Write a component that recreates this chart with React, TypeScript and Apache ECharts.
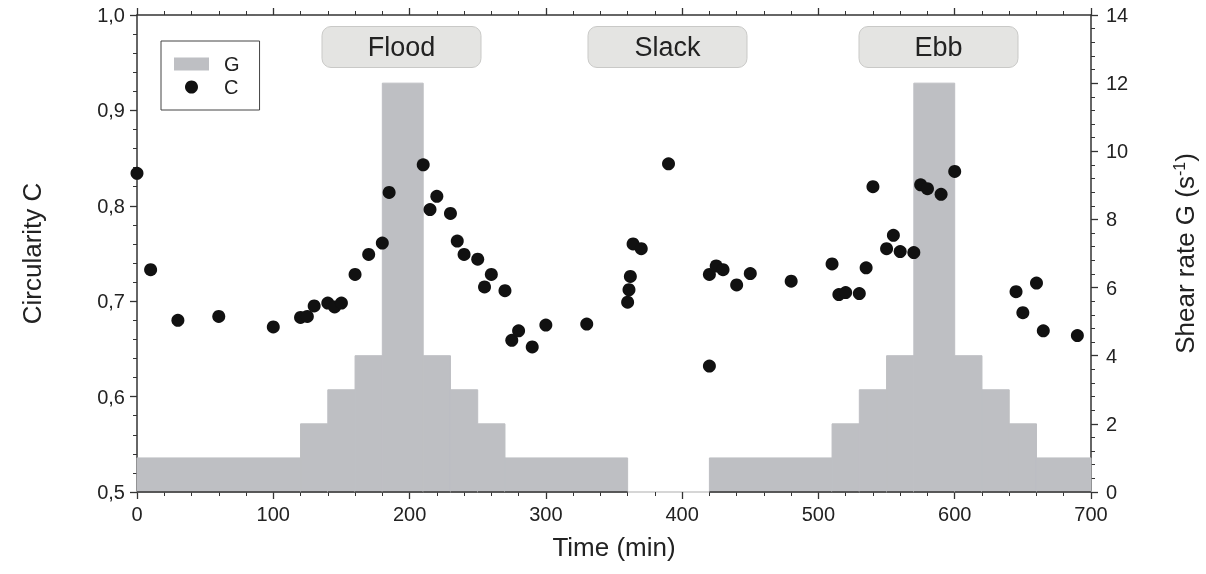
import React, { useEffect, useRef } from "react";
import * as echarts from "echarts";

// Shear rate G steps (time start, time end in min, value in s^-1)
const gStart = [0, 120, 140, 160, 180, 210, 230, 250, 270, 420, 510, 530, 550, 570, 600, 620, 640, 660];
const gEnd = [120, 140, 160, 180, 210, 230, 250, 270, 360, 510, 530, 550, 570, 600, 620, 640, 660, 700];
const gValue = [1, 2, 3, 4, 12, 4, 3, 2, 1, 1, 2, 3, 4, 12, 4, 3, 2, 1];

// Circularity C points
const cTime = [0, 10, 30, 60, 100, 120, 125, 130, 140, 145, 150, 160, 170, 180, 185, 210, 215, 220, 230, 235, 240, 250, 255, 260, 270, 275, 280, 290, 300, 330, 360, 361, 362, 364, 370, 390, 420, 420, 425, 430, 440, 450, 480, 510, 515, 520, 530, 535, 540, 550, 555, 560, 570, 575, 580, 590, 600, 645, 650, 660, 665, 690];
const cValue = [0.834, 0.733, 0.680, 0.684, 0.673, 0.683, 0.684, 0.695, 0.698, 0.694, 0.698, 0.728, 0.749, 0.761, 0.814, 0.843, 0.796, 0.810, 0.792, 0.763, 0.749, 0.744, 0.715, 0.728, 0.711, 0.659, 0.669, 0.652, 0.675, 0.676, 0.699, 0.712, 0.726, 0.760, 0.755, 0.844, 0.632, 0.728, 0.737, 0.733, 0.717, 0.729, 0.721, 0.739, 0.707, 0.709, 0.708, 0.735, 0.820, 0.755, 0.769, 0.752, 0.751, 0.822, 0.818, 0.812, 0.836, 0.710, 0.688, 0.719, 0.669, 0.664];

const phaseLabels = ["Flood", "Slack", "Ebb"];
const phaseBoxLeft = [322, 588, 859];

const FONT = "Liberation Sans, Arial, Helvetica, sans-serif";
const AXIS = "#333";
const TXT = "#222";
const BAR = "#bebfc3";

export default function App() {
  const ref = useRef<HTMLDivElement>(null);
  useEffect(() => {
    document.body.style.margin = "0";
    const chart = echarts.init(ref.current!, undefined, { renderer: "svg" });
    const gData = gStart.map((s, i) => [s, gEnd[i], gValue[i]]);
    const cData = cTime.map((t, i) => [t, cValue[i]]);

    const boxes: any[] = [];
    phaseLabels.forEach((lab, i) => {
      boxes.push({
        type: "rect",
        shape: { x: phaseBoxLeft[i], y: 26.5, width: 159, height: 41, r: 9 },
        style: { fill: "#e4e4e2", stroke: "#c9c9c7", lineWidth: 1 },
        z: 10,
      });
      boxes.push({
        type: "text",
        x: phaseBoxLeft[i] + 79.5,
        y: 47,
        style: {
          text: lab,
          fill: TXT,
          font: `27px ${FONT}`,
          align: "center",
          verticalAlign: "middle",
        },
        z: 11,
      });
    });

    const commonTick = { show: true, length: 7, lineStyle: { color: AXIS, width: 1.3 } };
    const commonMinor = { show: true, splitNumber: 5, length: 4, lineStyle: { color: AXIS, width: 1 } };

    chart.setOption({
      animation: false,
      textStyle: { fontFamily: FONT },
      grid: { left: 137, right: 115, top: 15, bottom: 82 },
      legend: {
        orient: "vertical",
        left: 161,
        top: 41,
        width: 99,
        borderColor: "#444",
        borderWidth: 1,
        padding: [13, 20, 13, 13],
        itemWidth: 35,
        itemHeight: 13,
        itemGap: 3,
        textStyle: { fontSize: 20, color: TXT, fontFamily: FONT, lineHeight: 20, padding: [0, 0, 0, 10] },
        data: [
          { name: "G", icon: "rect" },
          { name: "C", icon: "circle" },
        ],
      },
      xAxis: [
        {
          type: "value",
          min: 0,
          max: 700,
          interval: 100,
          name: "Time (min)",
          nameLocation: "middle",
          nameGap: 42,
          nameTextStyle: { fontSize: 26, color: TXT, fontFamily: FONT },
          axisLine: { show: true, onZero: false, lineStyle: { color: "#c8c8c8", width: 1.5 } },
          axisTick: commonTick,
          minorTick: commonMinor,
          axisLabel: { fontSize: 20, color: TXT, margin: 12, fontFamily: FONT },
          splitLine: { show: false },
        },
        {
          type: "value",
          position: "top",
          min: 0,
          max: 700,
          interval: 100,
          axisLine: { show: true, onZero: false, lineStyle: { color: AXIS, width: 1.5 } },
          axisTick: commonTick,
          minorTick: commonMinor,
          axisLabel: { show: false },
          splitLine: { show: false },
        },
      ],
      yAxis: [
        {
          type: "value",
          min: 0.5,
          max: 1.0,
          interval: 0.1,
          name: "Circularity C",
          nameLocation: "middle",
          nameGap: 92,
          nameRotate: 90,
          nameTextStyle: { fontSize: 26, color: TXT, fontFamily: FONT },
          axisLine: { show: true, onZero: false, lineStyle: { color: AXIS, width: 1.5 } },
          axisTick: commonTick,
          minorTick: commonMinor,
          axisLabel: {
            fontSize: 20,
            color: TXT,
            margin: 12,
            fontFamily: FONT,
            formatter: (v: number) => v.toFixed(1).replace(".", ","),
          },
          splitLine: { show: false },
        },
        {
          type: "value",
          position: "right",
          min: 0,
          max: 14,
          interval: 2,
          name: "{a|Shear rate G (s}{sup|-1}{a|)}",
          nameLocation: "middle",
          nameGap: 80,
          nameRotate: 90,
          nameTextStyle: {
            color: TXT,
            fontFamily: FONT,
            rich: {
              a: { fontSize: 26, color: TXT, fontFamily: FONT },
              sup: { fontSize: 16, color: TXT, fontFamily: FONT, padding: [0, 0, 12, 0] },
            },
          },
          axisLine: { show: true, onZero: false, lineStyle: { color: AXIS, width: 1.5 } },
          axisTick: commonTick,
          minorTick: commonMinor,
          axisLabel: { fontSize: 20, color: TXT, margin: 15, fontFamily: FONT },
          splitLine: { show: false },
        },
      ],
      series: [
        {
          name: "G",
          type: "custom",
          xAxisIndex: 0,
          yAxisIndex: 1,
          itemStyle: { color: BAR },
          encode: { x: [0, 1], y: 2 },
          data: gData,
          renderItem: (params: any, api: any) => {
            const x0 = api.value(0);
            const x1 = api.value(1);
            const v = api.value(2);
            const pTop = api.coord([x0, v]);
            const pBot = api.coord([x1, 0]);
            return {
              type: "group",
              children: [
                {
                  type: "rect",
                  shape: { x: pTop[0], y: pTop[1], width: pBot[0] - pTop[0], height: pBot[1] - pTop[1] },
                  style: { fill: BAR, stroke: BAR, lineWidth: 1 },
                },
                {
                  type: "line",
                  shape: { x1: pTop[0], y1: pBot[1], x2: pBot[0], y2: pBot[1] },
                  style: { stroke: AXIS, lineWidth: 1.5 },
                },
              ],
            };
          },
          z: 1,
        },
        {
          name: "C",
          type: "scatter",
          xAxisIndex: 0,
          yAxisIndex: 0,
          symbol: "circle",
          symbolSize: 13,
          itemStyle: { color: "#111", opacity: 1 },
          data: cData,
          z: 5,
        },
      ],
      graphic: boxes,
    });
    return () => chart.dispose();
  }, []);
  return <div ref={ref} style={{ position: "fixed", left: 0, top: 0, width: 1206, height: 574 }} />;
}
